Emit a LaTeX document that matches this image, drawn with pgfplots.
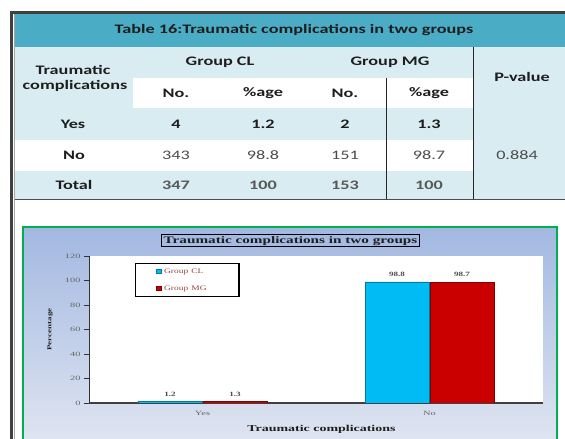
\documentclass[border=0pt]{standalone}
\usepackage{fontspec}
\setmainfont{Carlito}
\newfontfamily\tnr{Liberation Serif}
\usepackage{graphicx}
\usepackage{pgfplots}
\pgfplotsset{compat=1.18}
\definecolor{tblteal}{RGB}{75,172,198}
\definecolor{tbllight}{RGB}{216,236,242}
\definecolor{txtdark}{RGB}{30,30,30}
\definecolor{barcyan}{RGB}{0,187,244}
\definecolor{barred}{RGB}{202,0,0}
\definecolor{boxgreen}{RGB}{0,176,80}
\definecolor{bgtop}{RGB}{162,184,225}
\definecolor{bgbot}{RGB}{224,229,241}
\definecolor{legtxt}{RGB}{150,70,70}
\newcommand{\sx}[1]{\scalebox{1.4}[1]{#1}}
\newcommand{\cx}[1]{\scalebox{1.6}[1]{#1}}
\begin{document}
\begin{tikzpicture}[x=1pt,y=1pt]
\useasboundingbox (0,0) rectangle (565,439);
\begin{scope}
\clip (0,0) rectangle (565,439);
\fill[white] (0,0) rectangle (565,439);
% table backgrounds
\fill[tblteal] (14,425) rectangle (570,392);
\fill[tbllight] (14,392) rectangle (570,361);
\fill[tbllight] (14,361) rectangle (133,331);
\fill[tbllight] (473,392) rectangle (570,240);
\fill[tbllight] (14,331) rectangle (570,299);
\fill[tbllight] (14,268) rectangle (570,240);
% lines
\draw[black!85, line width=1pt] (386,361) -- (386,240);
\draw[black!85, line width=1pt] (473,392) -- (473,240);
\draw[black!70, line width=1.6pt] (14,239.5) -- (570,239.5);
% frame
\draw[black!75, line width=3pt] (11.5,-2) -- (11.5,426.5) -- (570,426.5);
\draw[black!35, line width=0.8pt] (14.2,-2) -- (14.2,424);
% table text
\node[font=\bfseries\fontsize{13}{14}\selectfont, text=txtdark] at (294,409) {\sx{Table 16:Traumatic complications in two groups}};
\begin{scope}[every node/.style={font=\bfseries\fontsize{13}{14}\selectfont, text=txtdark}]
\node at (73,369) {\sx{Traumatic}};
\node at (75,353) {\sx{complications}};
\node at (220,377) {\sx{Group CL}};
\node at (390,377) {\sx{Group MG}};
\node at (522,362) {\sx{P-value}};
\node at (176,346) {\sx{No.}};
\node at (263,346) {\sx{\%age}};
\node at (345,346) {\sx{No.}};
\node at (429,346) {\sx{\%age}};
\node at (73,315) {\sx{Yes}};
\node at (176,315) {\sx{4}};
\node at (263,315) {\sx{1.2}};
\node at (345,315) {\sx{2}};
\node at (429,315) {\sx{1.3}};
\node at (74,284) {\sx{No}};
\node at (74,254) {\sx{Total}};
\end{scope}
\begin{scope}[every node/.style={font=\fontsize{13}{14}\selectfont, text=black!70}]
\node at (176,284) {\sx{343}};
\node at (263,284) {\sx{98.8}};
\node at (345,284) {\sx{151}};
\node at (429,284) {\sx{98.7}};
\node at (517,284) {\sx{0.884}};
\end{scope}
\begin{scope}[every node/.style={font=\bfseries\fontsize{13}{14}\selectfont, text=black!65}]
\node at (176,254) {\sx{347}};
\node at (263,254) {\sx{100}};
\node at (345,254) {\sx{153}};
\node at (429,254) {\sx{100}};
\end{scope}
% chart box
\shade[top color=bgtop, bottom color=bgbot] (23,212) rectangle (557,-5);
\draw[boxgreen, line width=2pt] (23,-5) -- (23,212) -- (557,212) -- (557,-5);
\node[draw=black, line width=1.3pt, inner xsep=2pt, inner ysep=1pt, text height=7.5pt, text depth=2pt, font=\tnr\bfseries\fontsize{10}{11}\selectfont, text=txtdark] at (290.5,198.5) {\scalebox{1.52}[1]{Traumatic complications in two groups}};
\end{scope}
\begin{axis}[
  at={(89pt,36pt)}, anchor=south west,
  scale only axis, width=454pt, height=147pt,
  ybar=1pt, bar width=64pt,
  xmin=-0.5, xmax=1.5, ymin=0, ymax=120,
  xtick={0,1}, xticklabels={\cx{Yes},\cx{No}},
  ytick={0,20,40,60,80,100,120},
  yticklabel={\cx{\pgfmathprintnumber{\tick}}},
  axis x line*=bottom, axis y line*=left,
  x axis line style={black!75, line width=1.3pt, -},
  y axis line style={black!80, line width=0.7pt, -},
  axis background/.style={fill=white},
  tick align=outside, major tick length=5pt,
  xtick style={draw=none},
  ytick style={black!80, line width=0.6pt},
  ticklabel style={font=\tnr\fontsize{6.5}{7}\selectfont, text=black!60},
  /pgf/number format/assume math mode=true,
  ylabel={\scalebox{1.5}[1]{Percentage}},
  ylabel style={font=\tnr\bfseries\fontsize{6}{6}\selectfont, text=txtdark, at={(axis description cs:-0.086,0.5)}, anchor=center},
  xlabel={\scalebox{1.55}[1]{Traumatic complications}},
  xlabel style={font=\tnr\bfseries\fontsize{9}{9}\selectfont, text=txtdark, at={(axis description cs:0.512,-0.177)}, anchor=center},
  nodes near coords={\scalebox{1.4}[1]{\pgfmathprintnumber{\pgfplotspointmeta}}},
  nodes near coords style={font=\tnr\bfseries\fontsize{6.5}{7}\selectfont, text=black!70, yshift=1.5pt},
  legend style={at={(0.1013,0.952)}, anchor=north west, draw=black, line width=1.2pt, fill=white,
     font=\tnr\fontsize{7}{7}\selectfont, text=legtxt, inner xsep=20pt, inner ysep=3pt, row sep=7pt,
     nodes={inner xsep=3pt, inner ysep=2pt, text height=5pt, text depth=1pt},
     /tikz/every even column/.append style={text width=52pt}},
  legend cell align=left,
  legend image code/.code={\fill[#1] (0pt,-2pt) rectangle (5pt,2.5pt);},
]
\addplot[fill=barcyan, draw=barcyan!65!black, line width=0.5pt] coordinates {(0,1.2) (1,98.8)};
\addplot[fill=barred, draw=barred!65!black, line width=0.5pt] coordinates {(0,1.3) (1,98.7)};
\legend{\scalebox{1.35}[1]{Group CL}, \scalebox{1.35}[1]{Group MG}}
\end{axis}
\end{tikzpicture}
\end{document}
